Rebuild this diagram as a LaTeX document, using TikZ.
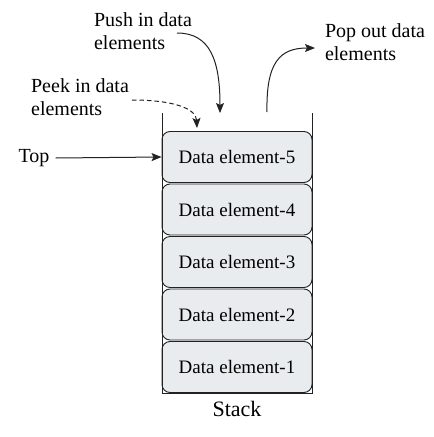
\documentclass[tikz,border=0pt]{standalone}
\usepackage{fontspec}
\setmainfont{Liberation Serif}
\usetikzlibrary{arrows.meta}
\definecolor{boxfill}{HTML}{E8ECEE}
\definecolor{ink}{HTML}{222222}
\begin{document}
\begin{tikzpicture}[x=1pt,y=-1pt,
  elem/.style={draw=ink,line width=0.9pt,fill=boxfill,rounded corners=8pt,minimum width=150pt,minimum height=51pt,inner sep=0pt,font=\fontsize{19}{22}\selectfont},
  lbl/.style={align=left,inner sep=0pt,font=\fontsize{20}{23}\selectfont},
  arr/.style={draw=ink,line width=1pt,-{Stealth[length=10pt,width=8pt,inset=2pt]}},
  wall/.style={draw=ink,line width=1pt}]
\useasboundingbox (0,0) rectangle (434,437);
% stack elements
\node[elem] (b5) at (237,157) {Data element-5};
\node[elem] (b4) at (237,209.5) {Data element-4};
\node[elem] (b3) at (237,262) {Data element-3};
\node[elem] (b2) at (237,314.5) {Data element-2};
\node[elem] (b1) at (237,367) {Data element-1};
% container
\coordinate (tl) at (162,113);
\coordinate (bl) at (162,393);
\coordinate (br) at (312.5,393);
\coordinate (tr) at (312.5,113);
\draw[wall] (tl) -- (bl) -- (br) -- (tr);
% labels
\node[lbl] (push) at (143,31) {Push in data\\elements};
\node[lbl] (peek) at (80,97) {Peek in data\\elements};
\node[lbl] (pop) at (375,42) {Pop out data\\elements};
\node[lbl] (top) at (34,158) {Top};
\node[lbl,font=\fontsize{22}{25}\selectfont] (stack) at (237,409) {Stack};
% connectors
\coordinate (pushstart) at (177,33);
\coordinate (pushend) at (220,113);
\coordinate (peekstart) at (132,100);
\coordinate (peekend) at (197,128);
\coordinate (popstart) at (267,112);
\coordinate (popend) at (315,48);
\draw[arr] (pushstart) .. controls (210,33) and (220,60) .. (pushend);
\draw[arr,dash pattern=on 4.5pt off 3pt] (peekstart) .. controls (172,100) and (196,108) .. (peekend);
\draw[arr] (popstart) .. controls (266,62) and (280,48) .. (popend);
\draw[arr] ([xshift=6pt]top.east) -- (b5.west);
\end{tikzpicture}
\end{document}
